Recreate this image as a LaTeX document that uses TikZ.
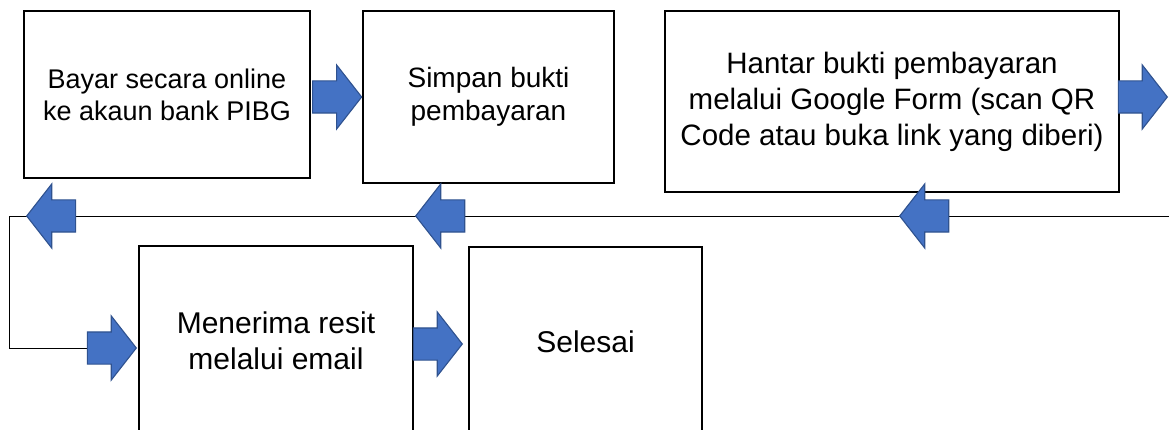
\documentclass[tikz,border=0pt]{standalone}
\usepackage{fontspec}
\setmainfont{Liberation Sans}
\usepackage{tikz}
\usetikzlibrary{positioning}
\usetikzlibrary{shapes.arrows}
\usetikzlibrary{backgrounds}

\definecolor{arrowblue}{HTML}{4472C4}
\definecolor{arrowedge}{HTML}{2F528F}

\tikzset{
  stepbox/.style={draw, line width=1.3pt, align=center, inner sep=0pt},
  smalltext/.style={font=\fontsize{28}{33}\selectfont},
  bigtext/.style={font=\fontsize{30}{36}\selectfont},
  blockarrow/.style={single arrow, draw=arrowedge, fill=arrowblue, line width=1.1pt,
    minimum width=63pt, minimum height=49pt, single arrow head extend=16pt,
    single arrow tip angle=104, inner xsep=0pt, inner ysep=15.5pt, anchor=tip},
  backarrow/.style={blockarrow, shape border rotate=180},
  flowline/.style={line width=0.9pt}
}

\begin{document}
\begin{tikzpicture}[x=1pt,y=-1pt]
\useasboundingbox (0,0) rectangle (1169,430);
\clip (0,0) rectangle (1169,430);

\node[stepbox,font=\fontsize{27}{32}\selectfont,minimum width=286pt,minimum height=167pt] (pay) at (167,94.5) {Bayar secara online\\ke akaun bank PIBG};
\node[stepbox,smalltext,minimum width=251pt,minimum height=172pt] (keep) at (488.5,97) {Simpan bukti\\pembayaran};
\node[stepbox,font=\fontsize{29.5}{36}\selectfont,minimum width=454pt,minimum height=181pt] (send) at (892,101.5) {Hantar bukti pembayaran\\melalui Google Form (scan QR\\Code atau buka link yang diberi)};
\node[stepbox,bigtext,minimum width=274pt,minimum height=190pt] (receipt) at (276,341) {Menerima resit\\melalui email};
\node[stepbox,bigtext,minimum width=233pt,minimum height=190pt] (done) at (585.5,342) {Selesai};

\node[blockarrow] (a1) at (keep.west) {};
\node[blockarrow] (a2) at (1168,97) {};
\node[blockarrow] (a3) at (137,348) {};
\node[blockarrow] (a4) at (463,344) {};

\node[backarrow] (b1) at (899,216) {};
\node[backarrow] (b2) at (415,216) {};
\node[backarrow] (b3) at (26,216) {};

\coordinate (linestart) at (1169,216);
\coordinate (bend1) at (9,216);
\coordinate (bend2) at (9,348);

\begin{scope}[on background layer]
\draw[flowline] (linestart) -- (bend1) -- (bend2) -- (a3.tail);
\end{scope}
\end{tikzpicture}
\end{document}
